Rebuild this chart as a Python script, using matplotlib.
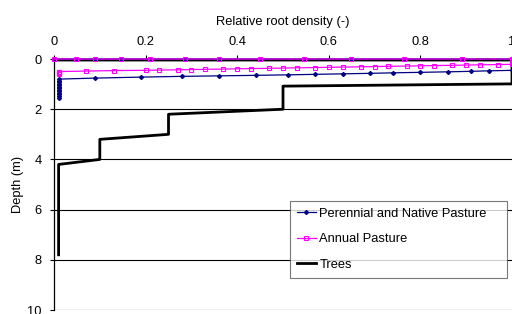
import matplotlib
matplotlib.use("Agg")
import matplotlib.pyplot as plt

plt.rcParams['font.family'] = ['Liberation Sans', 'DejaVu Sans']

# Perennial and Native Pasture
per_x = [0.0, 0.047, 0.09, 0.147, 0.21, 0.285, 0.36, 0.45, 0.545, 0.648, 0.764, 0.89, 1.0,
         1.0, 0.95, 0.91, 0.86, 0.80, 0.74, 0.69, 0.63, 0.57, 0.51, 0.44, 0.36, 0.28, 0.19, 0.09,
         0.01, 0.01, 0.01, 0.01, 0.01, 0.01, 0.01, 0.01, 0.01, 0.01, 0.01, 0.01, 0.01]
per_y = [0.0, 0.0, 0.0, 0.0, 0.0, 0.0, 0.0, 0.0, 0.0, 0.0, 0.0, 0.0, 0.0,
         0.45, 0.47, 0.49, 0.51, 0.53, 0.55, 0.57, 0.59, 0.61, 0.63, 0.65, 0.67, 0.69, 0.72, 0.76,
         0.80, 0.86, 0.92, 0.98, 1.04, 1.10, 1.16, 1.22, 1.28, 1.34, 1.40, 1.46, 1.55]

# Annual Pasture
ann_x = [0.0, 0.047, 0.09, 0.147, 0.21, 0.285, 0.36, 0.45, 0.545, 0.648, 0.764, 0.89, 1.0,
         1.0, 0.97, 0.93, 0.90, 0.87, 0.83, 0.80, 0.77, 0.73, 0.70, 0.67, 0.63, 0.60, 0.57,
         0.53, 0.50, 0.47, 0.43, 0.40, 0.37, 0.33, 0.30, 0.27, 0.23, 0.20, 0.13, 0.07,
         0.01, 0.01, 0.01, 0.01, 0.01]
ann_y = [0.0, 0.0, 0.0, 0.0, 0.0, 0.0, 0.0, 0.0, 0.0, 0.0, 0.0, 0.0, 0.0,
         0.21, 0.22, 0.23, 0.24, 0.25, 0.26, 0.27, 0.28, 0.29, 0.30, 0.31, 0.32, 0.33, 0.34,
         0.35, 0.36, 0.37, 0.38, 0.39, 0.40, 0.41, 0.42, 0.43, 0.44, 0.45, 0.46, 0.48,
         0.50, 0.52, 0.54, 0.56, 0.58]

# Trees
tree_x = [0.0, 1.0, 1.0, 0.5, 0.5, 0.25, 0.25, 0.1, 0.1, 0.01, 0.01]
tree_y = [0.04, 0.04, 0.99, 1.08, 2.0, 2.2, 3.0, 3.2, 4.0, 4.2, 7.8]

xticks = [0, 0.2, 0.4, 0.6, 0.8, 1]
xtick_labels = ['0', '0.2', '0.4', '0.6', '0.8', '1']
yticks = [0, 2, 4, 6, 8, 10]

fs = 9.3
fig = plt.figure(figsize=(5.12, 3.14), dpi=100)
ax = fig.add_axes([0.1055, 0.0127, 0.8945, 0.7993])

for yv in yticks:
    ax.axhline(yv, color='black', lw=0.8, zorder=1)

ax.plot(per_x, per_y, color='#000080', lw=0.9, marker='D', markersize=2.0,
        markerfacecolor='#000080', markeredgecolor='#000080',
        label='Perennial and Native Pasture', zorder=3, clip_on=False)
ax.plot(ann_x, ann_y, color='#FF00FF', lw=0.9, marker='s', markersize=3.0,
        markerfacecolor='none', markeredgecolor='#FF00FF', markeredgewidth=0.8,
        label='Annual Pasture', zorder=4, clip_on=False)
ax.plot(tree_x, tree_y, color='black', lw=2, label='Trees', zorder=2, clip_on=False)

ax.set_xlim(0, 1)
ax.set_ylim(10, 0)
ax.xaxis.tick_top()
ax.xaxis.set_label_position('top')
ax.set_xticks(xticks)
ax.set_xticklabels(xtick_labels)
ax.set_yticks(yticks)
ax.tick_params(axis='both', labelsize=fs, length=3, width=0.8, direction='out')
ax.tick_params(axis='x', pad=5)
ax.tick_params(axis='y', pad=6)
ax.set_xlabel('Relative root density (-)', fontsize=fs, labelpad=8)
ax.set_ylabel('Depth (m)', fontsize=fs, labelpad=2)

for s in ['right', 'bottom', 'top']:
    ax.spines[s].set_visible(False)
ax.spines['left'].set_linewidth(0.9)

leg = ax.legend(loc='upper left', bbox_to_anchor=(0.515, 0.434, 0.475, 0.0), mode='expand',
                borderaxespad=0.0,
                fontsize=fs, frameon=True, fancybox=False, edgecolor='#555555',
                handlelength=1.5, borderpad=0.53, labelspacing=1.03, handletextpad=0.25)
leg.get_frame().set_linewidth(0.8)

fig.savefig('out.png', dpi=100)
